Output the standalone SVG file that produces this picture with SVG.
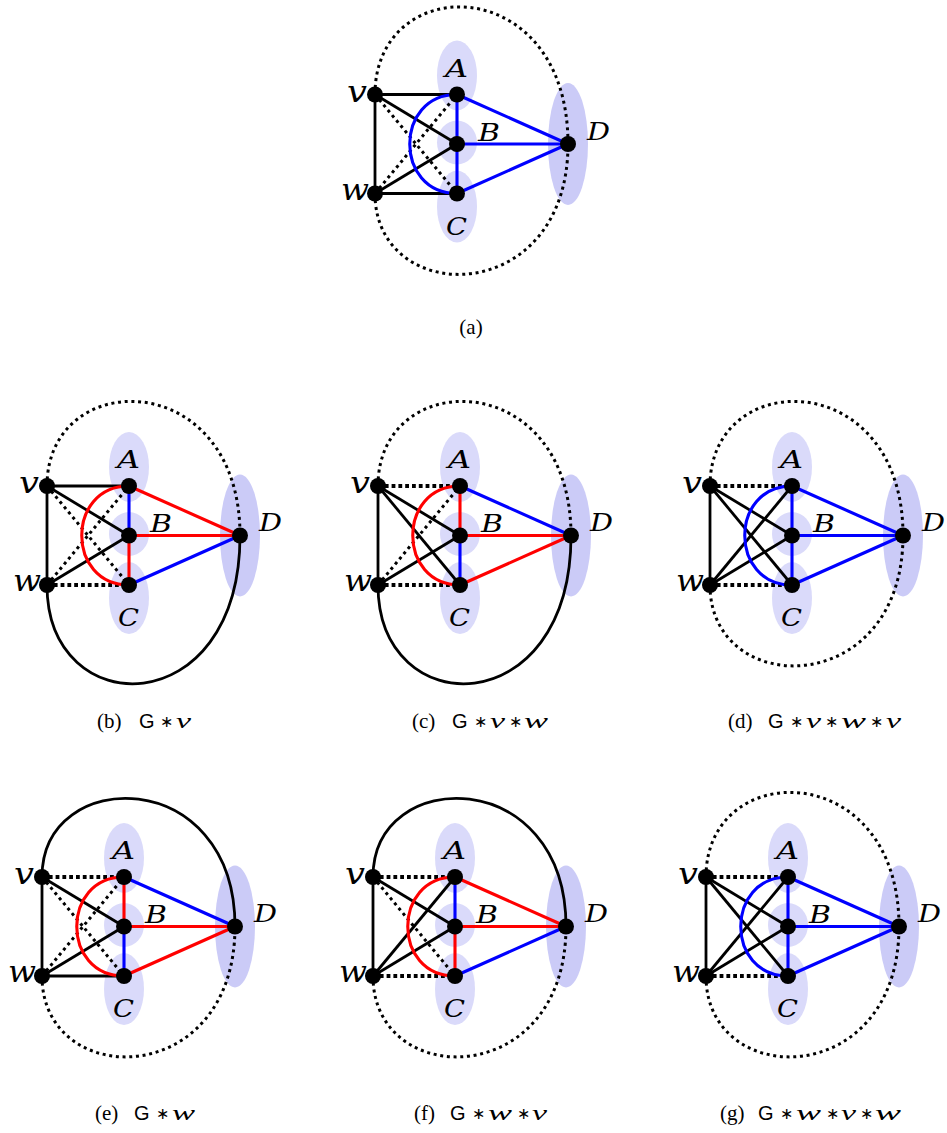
<svg xmlns="http://www.w3.org/2000/svg" width="947" height="1133" viewBox="0 0 947 1133">
<style>
.k{stroke:#000;stroke-width:2.8;fill:none}
.kd{stroke:#000;stroke-width:3;stroke-dasharray:3 3.7;fill:none}
.kt{stroke:#000;stroke-width:3.8;stroke-dasharray:3.8 3;fill:none}
.b{stroke:#0000ff;stroke-width:3.1;fill:none}
.r{stroke:#ff0000;stroke-width:3.1;fill:none}
.bag{fill:#dadafa}
.bagD{fill:#cbcbf7}
.dot{fill:#000}
.lb{font-family:"DejaVu Serif",serif;font-style:italic;font-size:25px;fill:#000}
.lv{font-family:"DejaVu Serif",serif;font-style:italic;font-size:29px;fill:#000}
.cap{font-family:"Liberation Serif",serif;font-size:21px;fill:#000}
.cs{font-family:"Liberation Sans",sans-serif;font-size:20px}
.ci{font-family:"Liberation Serif",serif;font-style:italic;font-size:22px}
.ca{font-family:"DejaVu Sans",sans-serif;font-size:16px}
</style>
<defs>
<g id="bags">
<ellipse class="bag" cx="82" cy="-19" rx="20" ry="35"/>
<ellipse class="bag" cx="82" cy="48" rx="20" ry="22"/>
<ellipse class="bag" cx="82" cy="112" rx="20" ry="36"/>
<ellipse class="bagD" cx="193" cy="49.5" rx="20" ry="61"/>
</g>
</defs>

<!-- Panel (a) -->
<g id="panel-a" transform="translate(375,94.5)">
<use href="#bags"/>
<g id="a-edges">
<path class="kd" d="M0,0 C0,-124 193,-124 193,49.5"/>
<path class="kd" d="M0,99 C0,214 193,214 193,49.5"/>
<path class="k" d="M0,0 H82"/>
<path class="k" d="M0,99 H82"/>
<path class="k" d="M0,0 V99"/>
<path class="k" d="M0,0 L82,49.5"/>
<path class="k" d="M0,99 L82,49.5"/>
<path class="kd" d="M0,0 L82,99"/>
<path class="kd" d="M0,99 L82,0"/>
<path class="b" d="M82,0 C19,0 19,99 82,99"/>
<path class="b" d="M82,0 V49.5"/>
<path class="b" d="M82,49.5 V99"/>
<path class="b" d="M82,0 L193,49.5"/>
<path class="b" d="M82,49.5 H193"/>
<path class="b" d="M82,99 L193,49.5"/>
</g>
<g id="a-v"><circle class="dot" cx="0" cy="0" r="8"/><text class="lv" x="-8" y="7" text-anchor="end" textLength="20" lengthAdjust="spacingAndGlyphs">v</text></g>
<g id="a-w"><circle class="dot" cx="0" cy="99" r="8"/><text class="lv" x="-6" y="105" text-anchor="end" textLength="28" lengthAdjust="spacingAndGlyphs">w</text></g>
<g id="a-A"><circle class="dot" cx="82" cy="0" r="8"/><text class="lb" x="70" y="-18" textLength="23" lengthAdjust="spacingAndGlyphs">A</text></g>
<g id="a-B"><circle class="dot" cx="82" cy="49.5" r="8"/><text class="lb" x="103" y="46" textLength="22" lengthAdjust="spacingAndGlyphs">B</text></g>
<g id="a-C"><circle class="dot" cx="82" cy="99" r="8"/><text class="lb" x="71" y="140" textLength="21" lengthAdjust="spacingAndGlyphs">C</text></g>
<g id="a-D"><circle class="dot" cx="193" cy="49.5" r="8"/><text class="lb" x="212" y="45" textLength="23" lengthAdjust="spacingAndGlyphs">D</text></g>
</g>
<text id="cap-a" class="cap" x="471" y="334" text-anchor="middle">(a)</text>

<!-- Panel (b) G*v -->
<g id="panel-b" transform="translate(47,486)">
<use href="#bags"/>
<g id="b-edges">
<path class="kd" d="M0,0 C0,-120 193,-120 193,49.5"/>
<path class="k" d="M0,99 C0,238 193,238 193,49.5"/>
<path class="k" d="M0,0 H82"/>
<path class="kt" d="M0,99 H82"/>
<path class="k" d="M0,0 V99"/>
<path class="k" d="M0,0 L82,49.5"/>
<path class="k" d="M0,99 L82,49.5"/>
<path class="kd" d="M0,0 L82,99"/>
<path class="kd" d="M0,99 L82,0"/>
<path class="r" d="M82,0 C19,0 19,99 82,99"/>
<path class="b" d="M82,0 V49.5"/>
<path class="r" d="M82,49.5 V99"/>
<path class="r" d="M82,0 L193,49.5"/>
<path class="r" d="M82,49.5 H193"/>
<path class="b" d="M82,99 L193,49.5"/>
</g>
<g id="b-v"><circle class="dot" cx="0" cy="0" r="8"/><text class="lv" x="-8" y="7" text-anchor="end" textLength="20" lengthAdjust="spacingAndGlyphs">v</text></g>
<g id="b-w"><circle class="dot" cx="0" cy="99" r="8"/><text class="lv" x="-6" y="105" text-anchor="end" textLength="28" lengthAdjust="spacingAndGlyphs">w</text></g>
<g id="b-A"><circle class="dot" cx="82" cy="0" r="8"/><text class="lb" x="70" y="-18" textLength="23" lengthAdjust="spacingAndGlyphs">A</text></g>
<g id="b-B"><circle class="dot" cx="82" cy="49.5" r="8"/><text class="lb" x="103" y="46" textLength="22" lengthAdjust="spacingAndGlyphs">B</text></g>
<g id="b-C"><circle class="dot" cx="82" cy="99" r="8"/><text class="lb" x="71" y="140" textLength="21" lengthAdjust="spacingAndGlyphs">C</text></g>
<g id="b-D"><circle class="dot" cx="193" cy="49.5" r="8"/><text class="lb" x="212" y="45" textLength="23" lengthAdjust="spacingAndGlyphs">D</text></g>
</g>
<text id="cap-b" class="cap" y="728"><tspan x="97">(b)</tspan><tspan class="cs" x="139">G</tspan><tspan class="ca" x="160" dy="-1">∗</tspan><tspan class="ci" x="176" dy="1" textLength="15" lengthAdjust="spacingAndGlyphs">v</tspan></text>

<!-- Panel (c) G*v*w -->
<g id="panel-c" transform="translate(378,486)">
<use href="#bags"/>
<g id="c-edges">
<path class="kd" d="M0,0 C0,-120 193,-120 193,49.5"/>
<path class="k" d="M0,99 C0,238 193,238 193,49.5"/>
<path class="kt" d="M0,0 H82"/>
<path class="kt" d="M0,99 H82"/>
<path class="k" d="M0,0 V99"/>
<path class="k" d="M0,0 L82,49.5"/>
<path class="k" d="M0,99 L82,49.5"/>
<path class="k" d="M0,0 L82,99"/>
<path class="kd" d="M0,99 L82,0"/>
<path class="r" d="M82,0 C19,0 19,99 82,99"/>
<path class="r" d="M82,0 V49.5"/>
<path class="b" d="M82,49.5 V99"/>
<path class="b" d="M82,0 L193,49.5"/>
<path class="r" d="M82,49.5 H193"/>
<path class="r" d="M82,99 L193,49.5"/>
</g>
<g id="c-v"><circle class="dot" cx="0" cy="0" r="8"/><text class="lv" x="-8" y="7" text-anchor="end" textLength="20" lengthAdjust="spacingAndGlyphs">v</text></g>
<g id="c-w"><circle class="dot" cx="0" cy="99" r="8"/><text class="lv" x="-6" y="105" text-anchor="end" textLength="28" lengthAdjust="spacingAndGlyphs">w</text></g>
<g id="c-A"><circle class="dot" cx="82" cy="0" r="8"/><text class="lb" x="70" y="-18" textLength="23" lengthAdjust="spacingAndGlyphs">A</text></g>
<g id="c-B"><circle class="dot" cx="82" cy="49.5" r="8"/><text class="lb" x="103" y="46" textLength="22" lengthAdjust="spacingAndGlyphs">B</text></g>
<g id="c-C"><circle class="dot" cx="82" cy="99" r="8"/><text class="lb" x="71" y="140" textLength="21" lengthAdjust="spacingAndGlyphs">C</text></g>
<g id="c-D"><circle class="dot" cx="193" cy="49.5" r="8"/><text class="lb" x="212" y="45" textLength="23" lengthAdjust="spacingAndGlyphs">D</text></g>
</g>
<text id="cap-c" class="cap" y="728"><tspan x="412">(c)</tspan><tspan class="cs" x="452">G</tspan><tspan class="ca" x="474" dy="-1">∗</tspan><tspan class="ci" x="490" dy="1" textLength="15" lengthAdjust="spacingAndGlyphs">v</tspan><tspan class="ca" x="509" dy="-1">∗</tspan><tspan class="ci" x="524" dy="1" textLength="24" lengthAdjust="spacingAndGlyphs">w</tspan></text>

<!-- Panel (d) G*v*w*v -->
<g id="panel-d" transform="translate(710,486)">
<use href="#bags"/>
<g id="d-edges">
<path class="kd" d="M0,0 C0,-120 193,-120 193,49.5"/>
<path class="kd" d="M0,99 C0,214 193,214 193,49.5"/>
<path class="kt" d="M0,0 H82"/>
<path class="kt" d="M0,99 H82"/>
<path class="k" d="M0,0 V99"/>
<path class="k" d="M0,0 L82,49.5"/>
<path class="k" d="M0,99 L82,49.5"/>
<path class="k" d="M0,0 L82,99"/>
<path class="k" d="M0,99 L82,0"/>
<path class="b" d="M82,0 C19,0 19,99 82,99"/>
<path class="b" d="M82,0 V49.5"/>
<path class="b" d="M82,49.5 V99"/>
<path class="b" d="M82,0 L193,49.5"/>
<path class="b" d="M82,49.5 H193"/>
<path class="b" d="M82,99 L193,49.5"/>
</g>
<g id="d-v"><circle class="dot" cx="0" cy="0" r="8"/><text class="lv" x="-8" y="7" text-anchor="end" textLength="20" lengthAdjust="spacingAndGlyphs">v</text></g>
<g id="d-w"><circle class="dot" cx="0" cy="99" r="8"/><text class="lv" x="-6" y="105" text-anchor="end" textLength="28" lengthAdjust="spacingAndGlyphs">w</text></g>
<g id="d-A"><circle class="dot" cx="82" cy="0" r="8"/><text class="lb" x="70" y="-18" textLength="23" lengthAdjust="spacingAndGlyphs">A</text></g>
<g id="d-B"><circle class="dot" cx="82" cy="49.5" r="8"/><text class="lb" x="103" y="46" textLength="22" lengthAdjust="spacingAndGlyphs">B</text></g>
<g id="d-C"><circle class="dot" cx="82" cy="99" r="8"/><text class="lb" x="71" y="140" textLength="21" lengthAdjust="spacingAndGlyphs">C</text></g>
<g id="d-D"><circle class="dot" cx="193" cy="49.5" r="8"/><text class="lb" x="212" y="45" textLength="23" lengthAdjust="spacingAndGlyphs">D</text></g>
</g>
<text id="cap-d" class="cap" y="728"><tspan x="728">(d)</tspan><tspan class="cs" x="768">G</tspan><tspan class="ca" x="790" dy="-1">∗</tspan><tspan class="ci" x="806" dy="1" textLength="15" lengthAdjust="spacingAndGlyphs">v</tspan><tspan class="ca" x="825" dy="-1">∗</tspan><tspan class="ci" x="841" dy="1" textLength="25" lengthAdjust="spacingAndGlyphs">w</tspan><tspan class="ca" x="870" dy="-1">∗</tspan><tspan class="ci" x="886" dy="1" textLength="15" lengthAdjust="spacingAndGlyphs">v</tspan></text>

<!-- Panel (e) G*w -->
<g id="panel-e" transform="translate(42,877)">
<use href="#bags"/>
<g id="e-edges">
<path class="k" d="M0,0 C0,-112 193,-112 193,49.5"/>
<path class="kd" d="M0,99 C0,214 193,214 193,49.5"/>
<path class="kt" d="M0,0 H82"/>
<path class="k" d="M0,99 H82"/>
<path class="k" d="M0,0 V99"/>
<path class="k" d="M0,0 L82,49.5"/>
<path class="k" d="M0,99 L82,49.5"/>
<path class="kd" d="M0,0 L82,99"/>
<path class="kd" d="M0,99 L82,0"/>
<path class="r" d="M82,0 C19,0 19,99 82,99"/>
<path class="r" d="M82,0 V49.5"/>
<path class="b" d="M82,49.5 V99"/>
<path class="b" d="M82,0 L193,49.5"/>
<path class="r" d="M82,49.5 H193"/>
<path class="r" d="M82,99 L193,49.5"/>
</g>
<g id="e-v"><circle class="dot" cx="0" cy="0" r="8"/><text class="lv" x="-8" y="7" text-anchor="end" textLength="20" lengthAdjust="spacingAndGlyphs">v</text></g>
<g id="e-w"><circle class="dot" cx="0" cy="99" r="8"/><text class="lv" x="-6" y="105" text-anchor="end" textLength="28" lengthAdjust="spacingAndGlyphs">w</text></g>
<g id="e-A"><circle class="dot" cx="82" cy="0" r="8"/><text class="lb" x="70" y="-18" textLength="23" lengthAdjust="spacingAndGlyphs">A</text></g>
<g id="e-B"><circle class="dot" cx="82" cy="49.5" r="8"/><text class="lb" x="103" y="46" textLength="22" lengthAdjust="spacingAndGlyphs">B</text></g>
<g id="e-C"><circle class="dot" cx="82" cy="99" r="8"/><text class="lb" x="71" y="140" textLength="21" lengthAdjust="spacingAndGlyphs">C</text></g>
<g id="e-D"><circle class="dot" cx="193" cy="49.5" r="8"/><text class="lb" x="212" y="45" textLength="23" lengthAdjust="spacingAndGlyphs">D</text></g>
</g>
<text id="cap-e" class="cap" y="1120"><tspan x="95">(e)</tspan><tspan class="cs" x="134">G</tspan><tspan class="ca" x="156" dy="-1">∗</tspan><tspan class="ci" x="172" dy="1" textLength="23" lengthAdjust="spacingAndGlyphs">w</tspan></text>

<!-- Panel (f) G*w*v -->
<g id="panel-f" transform="translate(373,877)">
<use href="#bags"/>
<g id="f-edges">
<path class="k" d="M0,0 C0,-112 193,-112 193,49.5"/>
<path class="kd" d="M0,99 C0,214 193,214 193,49.5"/>
<path class="kt" d="M0,0 H82"/>
<path class="kt" d="M0,99 H82"/>
<path class="k" d="M0,0 V99"/>
<path class="k" d="M0,0 L82,49.5"/>
<path class="k" d="M0,99 L82,49.5"/>
<path class="kd" d="M0,0 L82,99"/>
<path class="k" d="M0,99 L82,0"/>
<path class="r" d="M82,0 C19,0 19,99 82,99"/>
<path class="b" d="M82,0 V49.5"/>
<path class="r" d="M82,49.5 V99"/>
<path class="r" d="M82,0 L193,49.5"/>
<path class="r" d="M82,49.5 H193"/>
<path class="b" d="M82,99 L193,49.5"/>
</g>
<g id="f-v"><circle class="dot" cx="0" cy="0" r="8"/><text class="lv" x="-8" y="7" text-anchor="end" textLength="20" lengthAdjust="spacingAndGlyphs">v</text></g>
<g id="f-w"><circle class="dot" cx="0" cy="99" r="8"/><text class="lv" x="-6" y="105" text-anchor="end" textLength="28" lengthAdjust="spacingAndGlyphs">w</text></g>
<g id="f-A"><circle class="dot" cx="82" cy="0" r="8"/><text class="lb" x="70" y="-18" textLength="23" lengthAdjust="spacingAndGlyphs">A</text></g>
<g id="f-B"><circle class="dot" cx="82" cy="49.5" r="8"/><text class="lb" x="103" y="46" textLength="22" lengthAdjust="spacingAndGlyphs">B</text></g>
<g id="f-C"><circle class="dot" cx="82" cy="99" r="8"/><text class="lb" x="71" y="140" textLength="21" lengthAdjust="spacingAndGlyphs">C</text></g>
<g id="f-D"><circle class="dot" cx="193" cy="49.5" r="8"/><text class="lb" x="212" y="45" textLength="23" lengthAdjust="spacingAndGlyphs">D</text></g>
</g>
<text id="cap-f" class="cap" y="1120"><tspan x="414">(f)</tspan><tspan class="cs" x="450">G</tspan><tspan class="ca" x="472" dy="-1">∗</tspan><tspan class="ci" x="488" dy="1" textLength="24" lengthAdjust="spacingAndGlyphs">w</tspan><tspan class="ca" x="517" dy="-1">∗</tspan><tspan class="ci" x="532" dy="1" textLength="15" lengthAdjust="spacingAndGlyphs">v</tspan></text>

<!-- Panel (g) G*w*v*w -->
<g id="panel-g" transform="translate(706,877)">
<use href="#bags"/>
<g id="g-edges">
<path class="kd" d="M0,0 C0,-120 193,-120 193,49.5"/>
<path class="kd" d="M0,99 C0,214 193,214 193,49.5"/>
<path class="kt" d="M0,0 H82"/>
<path class="kt" d="M0,99 H82"/>
<path class="k" d="M0,0 V99"/>
<path class="k" d="M0,0 L82,49.5"/>
<path class="k" d="M0,99 L82,49.5"/>
<path class="k" d="M0,0 L82,99"/>
<path class="k" d="M0,99 L82,0"/>
<path class="b" d="M82,0 C19,0 19,99 82,99"/>
<path class="b" d="M82,0 V49.5"/>
<path class="b" d="M82,49.5 V99"/>
<path class="b" d="M82,0 L193,49.5"/>
<path class="b" d="M82,49.5 H193"/>
<path class="b" d="M82,99 L193,49.5"/>
</g>
<g id="g-v"><circle class="dot" cx="0" cy="0" r="8"/><text class="lv" x="-8" y="7" text-anchor="end" textLength="20" lengthAdjust="spacingAndGlyphs">v</text></g>
<g id="g-w"><circle class="dot" cx="0" cy="99" r="8"/><text class="lv" x="-6" y="105" text-anchor="end" textLength="28" lengthAdjust="spacingAndGlyphs">w</text></g>
<g id="g-A"><circle class="dot" cx="82" cy="0" r="8"/><text class="lb" x="70" y="-18" textLength="23" lengthAdjust="spacingAndGlyphs">A</text></g>
<g id="g-B"><circle class="dot" cx="82" cy="49.5" r="8"/><text class="lb" x="103" y="46" textLength="22" lengthAdjust="spacingAndGlyphs">B</text></g>
<g id="g-C"><circle class="dot" cx="82" cy="99" r="8"/><text class="lb" x="71" y="140" textLength="21" lengthAdjust="spacingAndGlyphs">C</text></g>
<g id="g-D"><circle class="dot" cx="193" cy="49.5" r="8"/><text class="lb" x="212" y="45" textLength="23" lengthAdjust="spacingAndGlyphs">D</text></g>
</g>
<text id="cap-g" class="cap" y="1120"><tspan x="720">(g)</tspan><tspan class="cs" x="758">G</tspan><tspan class="ca" x="780" dy="-1">∗</tspan><tspan class="ci" x="796" dy="1" textLength="25" lengthAdjust="spacingAndGlyphs">w</tspan><tspan class="ca" x="826" dy="-1">∗</tspan><tspan class="ci" x="841" dy="1" textLength="15" lengthAdjust="spacingAndGlyphs">v</tspan><tspan class="ca" x="860" dy="-1">∗</tspan><tspan class="ci" x="875" dy="1" textLength="26" lengthAdjust="spacingAndGlyphs">w</tspan></text>
</svg>
